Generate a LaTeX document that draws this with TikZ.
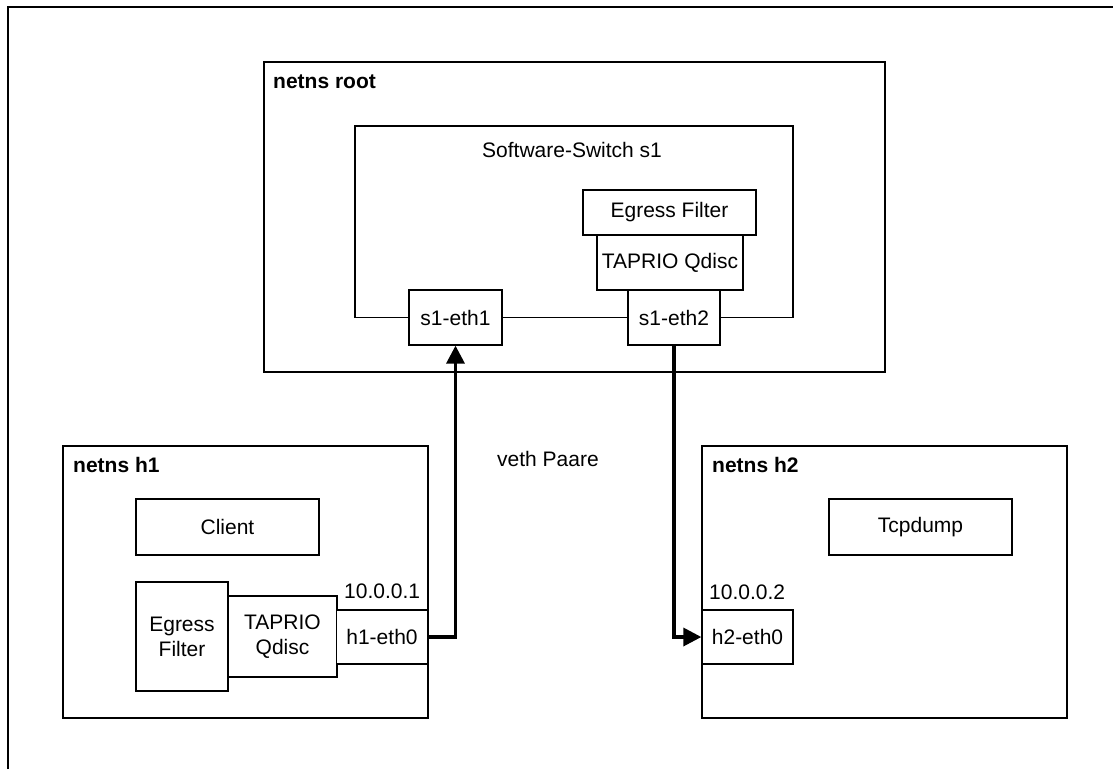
\documentclass[tikz,border=0pt]{standalone}
\usepackage{fontspec}
\setmainfont{Liberation Sans}
\usetikzlibrary{arrows.meta}
\tikzset{
  frame/.style={draw=black, line width=1.3pt},
  box/.style={draw=black, line width=1.3pt, fill=white, inner sep=0pt, align=center, font=\fontsize{21}{25}\selectfont},
  label/.style={inner sep=0pt, font=\fontsize{21}{25}\selectfont},
  title/.style={inner sep=0pt, font=\fontsize{21}{25}\selectfont\bfseries},
  link/.style={line width=1.3pt},
  veth/.style={line width=3.4pt, -{Triangle[length=18pt,width=18pt]}, line join=miter},
}
\begin{document}
\begin{tikzpicture}[x=1pt,y=-1pt]
\useasboundingbox (0,0) rectangle (1113,769);
\fill[white] (0,0) rectangle (1113,769);

% outer frame (runs off the page at right and bottom)
\draw[frame] (8,769) -- (8,7) -- (1113,7);

% network namespace root
\draw[frame] (264,62) rectangle (885,372);
\node[title, anchor=base west] (troot) at (273,88) {netns root};

% software switch with its two ports on the bottom edge
\node[box, minimum width=93pt, minimum height=55pt] (s1e1) at (455.5,317.5) {s1-eth1};
\node[box, minimum width=92pt, minimum height=55pt] (s1e2) at (674,317.5) {s1-eth2};
\coordinate (swbl) at (355,317.5);
\coordinate (swbr) at (793,317.5);
\draw[link] (s1e1.west) -- (swbl) -- (355,126) -- (793,126) -- (swbr) -- (s1e2.east);
\draw[link] (s1e1.east) -- (s1e2.west);
\node[label, anchor=base] (tsw) at (572,157) {Software-Switch s1};
\node[box, minimum width=173pt, minimum height=45pt] (sef) at (669.5,212.5) {Egress Filter};
\node[box, minimum width=146pt, minimum height=55pt] (stq) at (670,262.5) {TAPRIO Qdisc};

% network namespace h1
\draw[frame] (63,446) rectangle (428,718);
\node[title, anchor=base west] (th1) at (73,472) {netns h1};
\node[box, minimum width=183pt, minimum height=56pt] (client) at (227.5,527) {Client};
\node[box, minimum width=92pt, minimum height=109pt] (hef) at (182,636.5) {Egress\\Filter};
\node[box, minimum width=109pt, minimum height=81pt] (htq) at (282.5,636.5) {TAPRIO\\Qdisc};
\node[box, minimum width=91pt, minimum height=54pt] (h1e0) at (382,637) {h1-eth0};
\node[label, anchor=base west] (ip1) at (344,598) {10.0.0.1};

% network namespace h2
\draw[frame] (702,446) rectangle (1067,718);
\node[title, anchor=base west] (th2) at (712,472) {netns h2};
\node[box, minimum width=183pt, minimum height=56pt] (tcpd) at (920.5,527) {Tcpdump};
\node[box, minimum width=91pt, minimum height=54pt] (h2e0) at (747.5,637) {h2-eth0};
\node[label, anchor=base west] (ip2) at (709,599) {10.0.0.2};

% veth pairs
\node[label, anchor=base] (vp) at (548,466) {veth Paare};
\draw[veth] (h1e0.east) -| (s1e1.south);
\draw[veth] (s1e2.south) |- (h2e0.west);
\end{tikzpicture}
\end{document}
